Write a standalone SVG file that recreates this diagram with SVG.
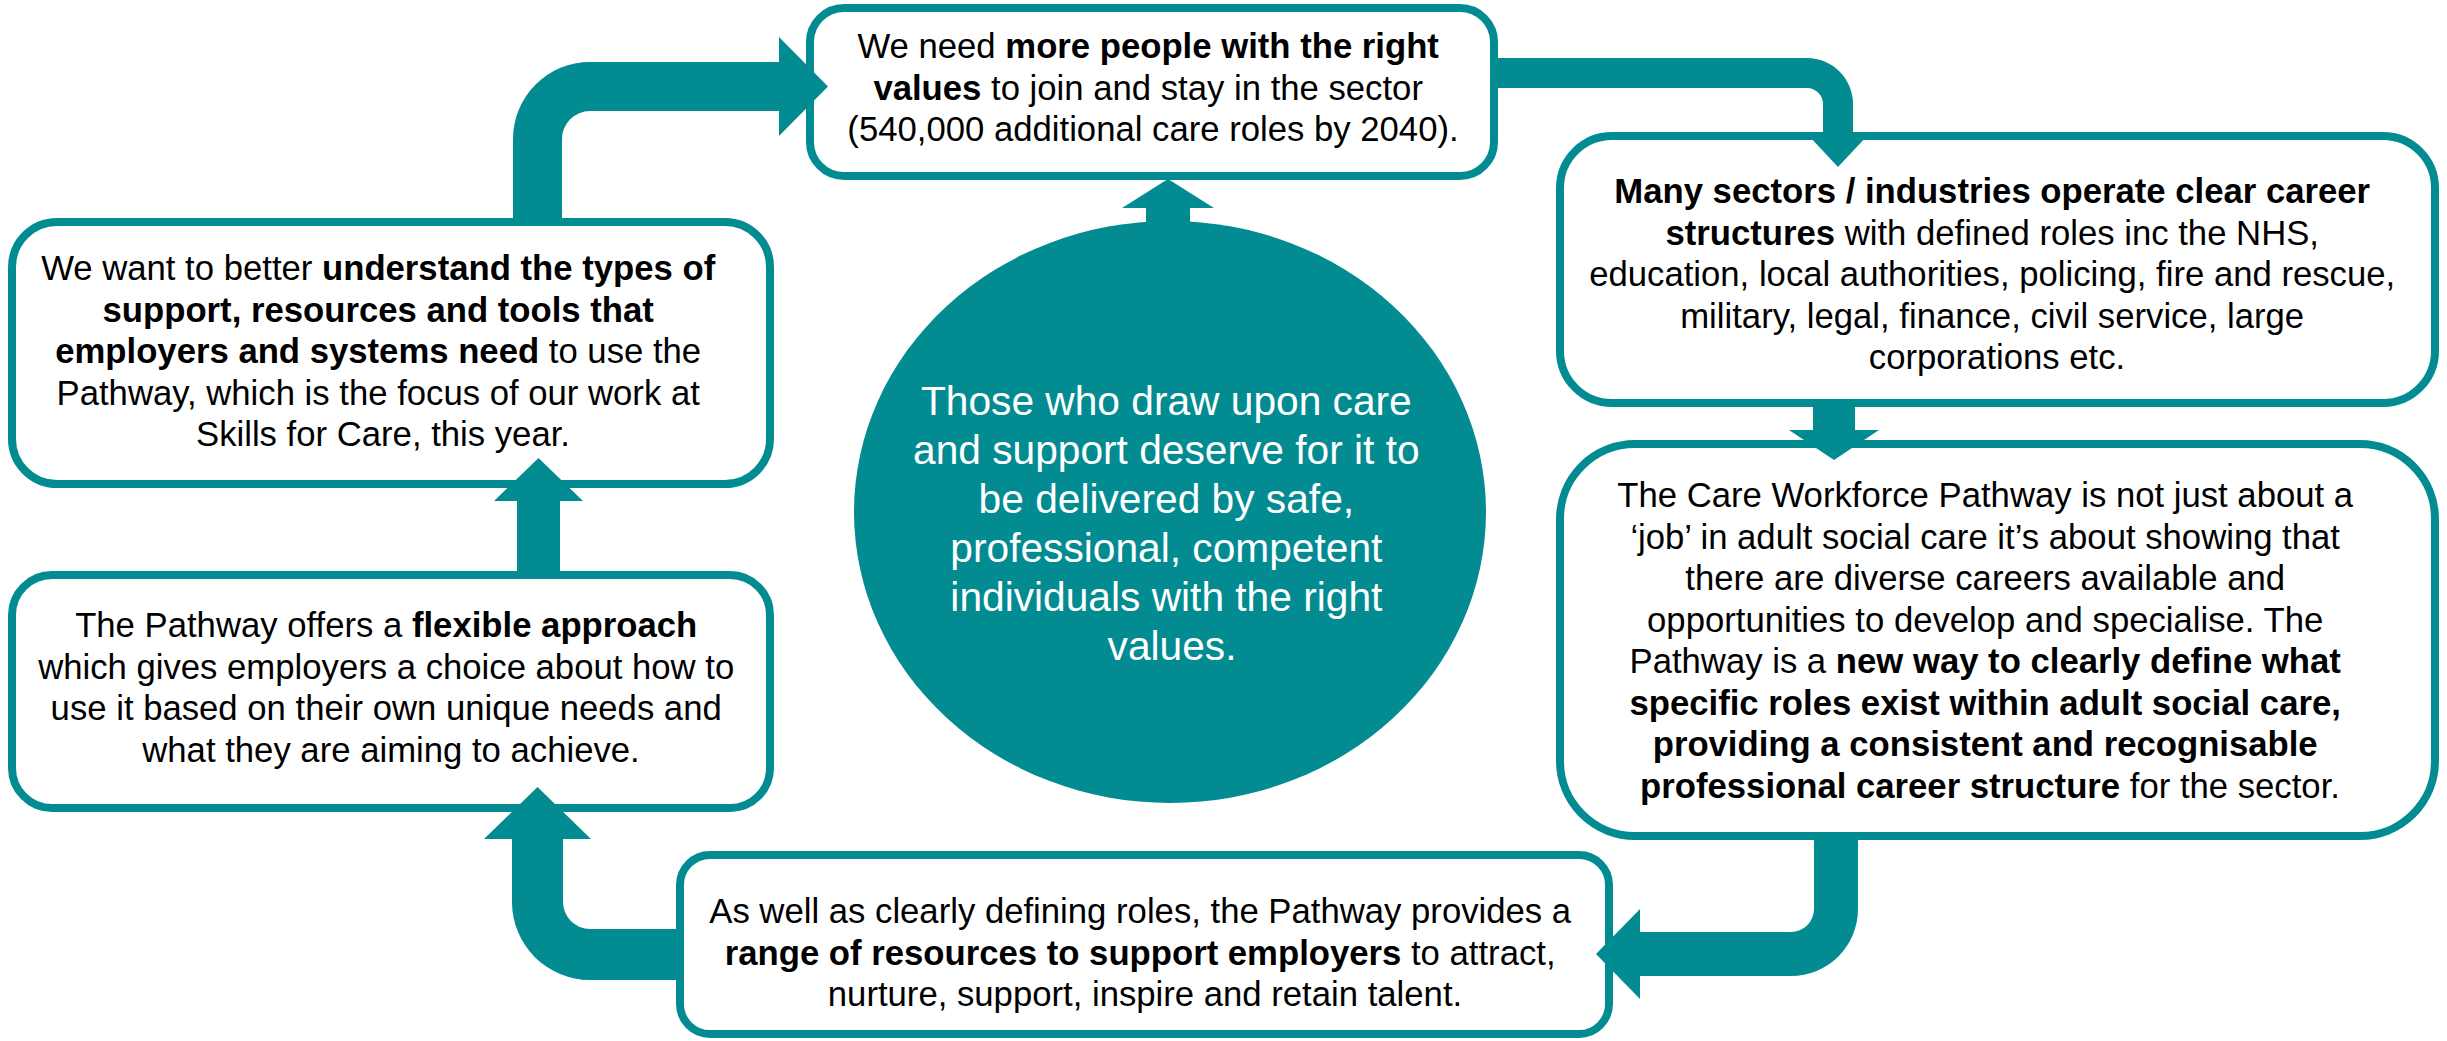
<svg xmlns="http://www.w3.org/2000/svg" width="2447" height="1041" viewBox="0 0 2447 1041">
  <style>
    .box { fill: #ffffff; stroke: #038B92; stroke-width: 8; }
    .arrow { fill: #038B92; }
    .hub { fill: #038B92; }
    .t { font-family: "Liberation Sans", Arial, sans-serif; font-size: 34.7px; fill: #000000; text-anchor: middle; }
    .ht { font-family: "Liberation Sans", Arial, sans-serif; font-size: 40.7px; fill: #ffffff; text-anchor: middle; }
    .b { font-weight: bold; }
  </style>

  <!-- central statement -->
  <g id="hub">
    <ellipse class="hub" cx="1170" cy="512" rx="316" ry="291"/>
    <text class="ht">
      <tspan x="1172" y="415">Those who draw upon care</tspan>
      <tspan x="1172" y="464">and support deserve for it to</tspan>
      <tspan x="1172" y="513">be delivered by safe,</tspan>
      <tspan x="1172" y="562">professional, competent</tspan>
      <tspan x="1172" y="611">individuals with the right</tspan>
      <tspan x="1172" y="660">values.</tspan>
    </text>
  </g>

  <!-- top: more people -->
  <g id="people">
    <rect class="box" x="810" y="8" width="684" height="168" rx="34"/>
    <text class="t">
      <tspan x="1153" y="58">We need <tspan class="b">more people with the right</tspan></tspan>
      <tspan x="1153" y="99.5"><tspan class="b">values</tspan> to join and stay in the sector</tspan>
      <tspan x="1153" y="141">(540,000 additional care roles by 2040).</tspan>
    </text>
  </g>

  <!-- right upper: other sectors -->
  <g id="sectors">
    <rect class="box" x="1560" y="136" width="875" height="267" rx="52"/>
    <text class="t">
      <tspan x="1997" y="203" class="b">Many sectors / industries operate clear career</tspan>
      <tspan x="1997" y="244.5"><tspan class="b">structures</tspan> with defined roles inc the NHS,</tspan>
      <tspan x="1997" y="286">education, local authorities, policing, fire and rescue,</tspan>
      <tspan x="1997" y="327.5">military, legal, finance, civil service, large</tspan>
      <tspan x="1997" y="369">corporations etc.</tspan>
    </text>
  </g>

  <!-- right lower: the pathway -->
  <g id="pathway">
    <rect class="box" x="1560" y="444" width="875" height="392" rx="75"/>
    <text class="t">
      <tspan x="1990" y="507">The Care Workforce Pathway is not just about a</tspan>
      <tspan x="1990" y="548.5">‘job’ in adult social care it’s about showing that</tspan>
      <tspan x="1990" y="590">there are diverse careers available and</tspan>
      <tspan x="1990" y="631.5">opportunities to develop and specialise. The</tspan>
      <tspan x="1990" y="673">Pathway is a <tspan class="b">new way to clearly define what</tspan></tspan>
      <tspan x="1990" y="714.5" class="b">specific roles exist within adult social care,</tspan>
      <tspan x="1990" y="756" class="b">providing a consistent and recognisable</tspan>
      <tspan x="1990" y="797.5"><tspan class="b">professional career structure</tspan> for the sector.</tspan>
    </text>
  </g>

  <!-- bottom: resources -->
  <g id="resources">
    <rect class="box" x="680" y="855" width="929" height="179" rx="30"/>
    <text class="t">
      <tspan x="1145" y="923">As well as clearly defining roles, the Pathway provides a</tspan>
      <tspan x="1145" y="964.5"><tspan class="b">range of resources to support employers</tspan> to attract,</tspan>
      <tspan x="1145" y="1006">nurture, support, inspire and retain talent.</tspan>
    </text>
  </g>

  <!-- left lower: flexible approach -->
  <g id="flexible">
    <rect class="box" x="12" y="575" width="758" height="233" rx="40"/>
    <text class="t">
      <tspan x="391" y="637">The Pathway offers a <tspan class="b">flexible approach</tspan></tspan>
      <tspan x="391" y="678.5">which gives employers a choice about how to</tspan>
      <tspan x="391" y="720">use it based on their own unique needs and</tspan>
      <tspan x="391" y="761.5">what they are aiming to achieve.</tspan>
    </text>
  </g>

  <!-- left upper: understanding support needs -->
  <g id="understand">
    <rect class="box" x="12" y="222" width="758" height="262" rx="45"/>
    <text class="t">
      <tspan x="383" y="280">We want to better <tspan class="b">understand the types of</tspan></tspan>
      <tspan x="383" y="321.5" class="b">support, resources and tools that</tspan>
      <tspan x="383" y="363"><tspan class="b">employers and systems need</tspan> to use the</tspan>
      <tspan x="383" y="404.5">Pathway, which is the focus of our work at</tspan>
      <tspan x="383" y="446">Skills for Care, this year.</tspan>
    </text>
  </g>

  <!-- cycle arrows -->
  <g id="connectors">
    <path class="arrow" d="M513,222 L513,139 A77,77 0 0 1 590,62 L779,62 L779,37 L828,86.5 L779,136 L779,111 L590,111 A28,28 0 0 0 562,139 L562,222 Z"/>
    <path class="arrow" d="M1494,58 L1807,58 A46,46 0 0 1 1853,104 L1853,136 L1867,136 L1838,167 L1809,136 L1823,136 L1823,104 A16,16 0 0 0 1807,88 L1494,88 Z"/>
    <path class="arrow" d="M1813,403 L1855,403 L1855,430 L1879,430 L1834,460 L1789,430 L1813,430 Z"/>
    <path class="arrow" d="M1814,836 L1858,836 L1858,909 A67,67 0 0 1 1791,976 L1640,976 L1640,999 L1596,954 L1640,909 L1640,932 L1791,932 A23,23 0 0 0 1814,909 Z"/>
    <path class="arrow" d="M681,929 L590,929 A27,27 0 0 1 563,902 L563,839 L591,839 L537.5,787 L484,839 L512,839 L512,902 A78,78 0 0 0 590,980 L681,980 Z"/>
    <path class="arrow" d="M517,575 L560,575 L560,501 L583,501 L538.5,458 L494,501 L517,501 Z"/>
    <path class="arrow" d="M1146,240 L1146,208 L1122,208 L1168,179 L1214,208 L1190,208 L1190,240 Z"/>
  </g>
</svg>
